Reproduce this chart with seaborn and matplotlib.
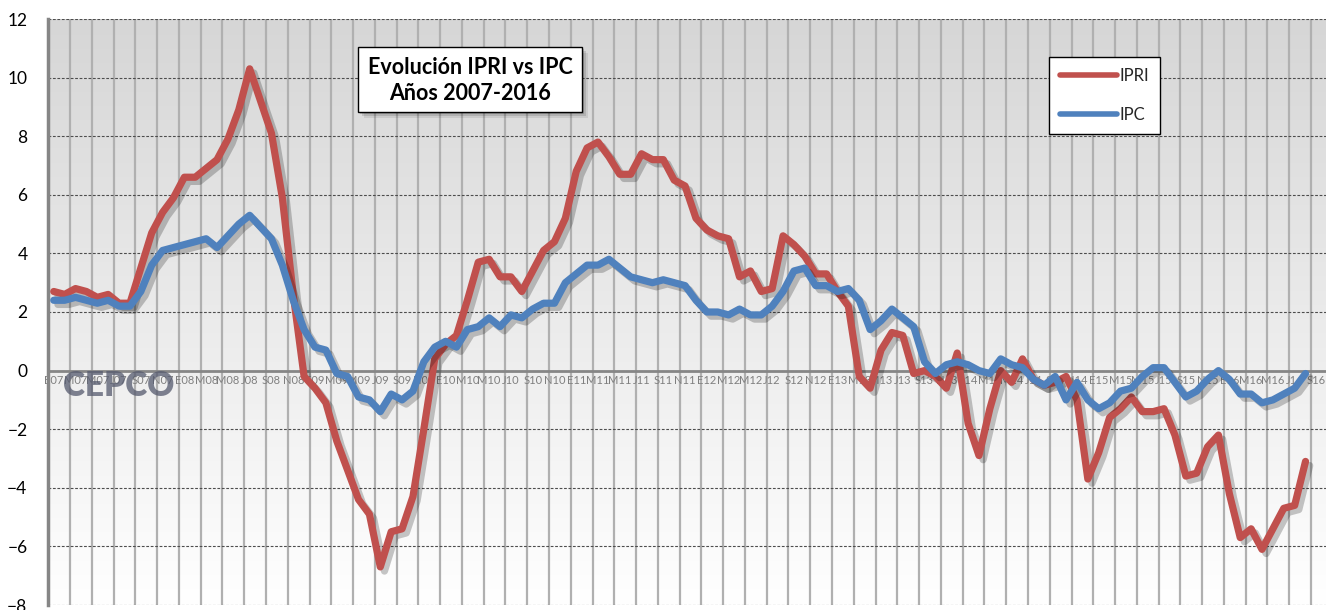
import numpy as np
import pandas as pd
import matplotlib
matplotlib.use('Agg')
import matplotlib.pyplot as plt
import matplotlib.patheffects as pe
from matplotlib.lines import Line2D
from matplotlib.patches import Rectangle
from matplotlib.colors import LinearSegmentedColormap
import seaborn as sns

# ------------------------------------------------------------
# Datos: tasas interanuales mensuales, enero 2007 - agosto 2016
# ------------------------------------------------------------
ipri = [
    2.7, 2.6, 2.8, 2.7, 2.5, 2.6, 2.3, 2.3, 3.5, 4.7, 5.4, 5.9,        # 2007
    6.6, 6.6, 6.9, 7.2, 7.9, 8.9, 10.3, 9.2, 8.1, 5.9, 2.6, -0.2,      # 2008
    -0.6, -1.1, -2.4, -3.4, -4.4, -4.9, -6.7, -5.5, -5.4, -4.3, -2.0, 0.4,  # 2009
    0.9, 1.2, 2.4, 3.7, 3.8, 3.2, 3.2, 2.7, 3.4, 4.1, 4.4, 5.2,        # 2010
    6.8, 7.6, 7.8, 7.3, 6.7, 6.7, 7.4, 7.2, 7.2, 6.5, 6.3, 5.2,        # 2011
    4.8, 4.6, 4.5, 3.2, 3.4, 2.7, 2.8, 4.6, 4.3, 3.9, 3.3, 3.3,        # 2012
    2.7, 2.2, -0.2, -0.6, 0.7, 1.3, 1.2, -0.1, 0.0, -0.2, -0.6, 0.6,   # 2013
    -1.8, -2.9, -1.3, 0.0, -0.4, 0.4, -0.3, -0.5, -0.4, -0.2, -1.0, -3.7,  # 2014
    -2.8, -1.6, -1.3, -0.9, -1.4, -1.4, -1.3, -2.2, -3.6, -3.5, -2.6, -2.2,  # 2015
    -4.2, -5.7, -5.4, -6.1, -5.4, -4.7, -4.6, -3.1,                    # 2016
]
ipc = [
    2.4, 2.4, 2.5, 2.4, 2.3, 2.4, 2.2, 2.2, 2.7, 3.6, 4.1, 4.2,
    4.3, 4.4, 4.5, 4.2, 4.6, 5.0, 5.3, 4.9, 4.5, 3.6, 2.4, 1.4,
    0.8, 0.7, -0.1, -0.2, -0.9, -1.0, -1.4, -0.8, -1.0, -0.7, 0.3, 0.8,
    1.0, 0.8, 1.4, 1.5, 1.8, 1.5, 1.9, 1.8, 2.1, 2.3, 2.3, 3.0,
    3.3, 3.6, 3.6, 3.8, 3.5, 3.2, 3.1, 3.0, 3.1, 3.0, 2.9, 2.4,
    2.0, 2.0, 1.9, 2.1, 1.9, 1.9, 2.2, 2.7, 3.4, 3.5, 2.9, 2.9,
    2.7, 2.8, 2.4, 1.4, 1.7, 2.1, 1.8, 1.5, 0.3, -0.1, 0.2, 0.3,
    0.2, 0.0, -0.1, 0.4, 0.2, 0.1, -0.3, -0.5, -0.2, -1.0, -0.4, -1.0,
    -1.3, -1.1, -0.7, -0.6, -0.2, 0.1, 0.1, -0.4, -0.9, -0.7, -0.3, 0.0,
    -0.3, -0.8, -0.8, -1.1, -1.0, -0.8, -0.6, -0.1,
]
meses = ['E', 'F', 'M', 'A', 'M', 'J', 'J', 'A', 'S', 'O', 'N', 'D']
anios = list(range(2007, 2017))
n_cat = 117   # categorias del eje: enero 2007 - septiembre 2016
cat_labels = [f"{meses[i % 12]}{str(anios[i // 12])[2:]}" for i in range(n_cat)]

titulo = "Evolución IPRI vs IPC\nAños 2007-2016"
colores = {'IPRI': '#c0504d', 'IPC': '#4f81bd'}

df = pd.concat([
    pd.DataFrame({'idx': np.arange(len(ipri)), 'valor': ipri, 'serie': 'IPRI'}),
    pd.DataFrame({'idx': np.arange(len(ipc)), 'valor': ipc, 'serie': 'IPC'}),
], ignore_index=True)

# ------------------------------------------------------------
# Figura
# ------------------------------------------------------------
W, H = 1326, 610
sns.set_style('white')
plt.rcParams['font.family'] = ['Lato', 'DejaVu Sans']

fig = plt.figure(figsize=(W / 100, H / 100), dpi=100)
ax = fig.add_axes([48.3 / W, 5 / H, 1 - 48.3 / W, 586 / H])

x0, x1 = -0.5, 116.88
y0, y1 = -8, 12

# fondo degradado gris -> blanco
cmap_bg = LinearSegmentedColormap.from_list('bg', ['#d6d6d6', '#ffffff'])
ax.imshow(np.linspace(0, 1, 256).reshape(-1, 1), cmap=cmap_bg, aspect='auto',
          extent=(x0, x1, y0, y1), origin='upper', zorder=0)

sns.lineplot(data=df, x='idx', y='valor', hue='serie', palette=colores,
             hue_order=['IPRI', 'IPC'], linewidth=5.2, legend=False, ax=ax, sort=False)
for ln in ax.lines:
    ln.set_solid_joinstyle('round')
    ln.set_solid_capstyle('round')
    ln.set_zorder(3)
    ln.set_path_effects([
        pe.SimpleLineShadow(offset=(3, -3), shadow_color='#000000', alpha=0.22),
        pe.Normal(),
    ])

ax.set_xlim(x0, x1)
ax.set_ylim(y0, y1)
ax.set_xlabel('')
ax.set_ylabel('')

# eje X: rejilla cada dos meses, etiquetas en el centro de la categoria
ax.set_xticks(np.arange(-0.5, n_cat, 2))
ax.set_xticklabels([])
ax.set_xticks(np.arange(0, n_cat, 2), [cat_labels[i] for i in range(0, n_cat, 2)], minor=True)
ax.tick_params(axis='x', which='major', direction='out', length=4, width=1.4, color='#868686')
ax.tick_params(axis='x', which='minor', length=0, pad=3, labelsize=8, labelcolor='#7f7f7f')

ax.set_yticks(np.arange(-8, 13, 2))
ax.tick_params(axis='y', direction='out', length=7, width=1.4, color='#868686',
               labelsize=12.5, labelcolor='black', pad=8)

ax.grid(axis='x', which='major', color='#b0b0b0', linewidth=1.6, linestyle='-')
ax.grid(axis='y', color='#4d4d4d', linewidth=0.8, linestyle=(0, (2.5, 1.5)))
ax.set_axisbelow(True)

for s in ['top', 'right']:
    ax.spines[s].set_visible(False)
ax.spines['left'].set_color('#868686')
ax.spines['left'].set_linewidth(2.5)
ax.spines['bottom'].set_position(('data', 0))
ax.spines['bottom'].set_color('#868686')
ax.spines['bottom'].set_linewidth(2)

# marca de agua
fig.text(119 / W, 1 - 386 / H, 'CEPCO', ha='center', va='center', fontsize=24,
         fontweight='heavy', color='#555a6e', alpha=0.75, zorder=1)

# leyenda
handles = [Line2D([], [], color=colores[k], lw=4, solid_capstyle='round') for k in ['IPRI', 'IPC']]
leg = ax.legend(handles, ['IPRI', 'IPC'], loc='upper left',
                bbox_to_anchor=(1049 / W, 1 - 57 / H), bbox_transform=fig.transFigure,
                borderaxespad=0, fontsize=12, handlelength=3.4, handletextpad=0.2,
                borderpad=0.65, labelspacing=1.38, frameon=True, fancybox=False,
                framealpha=1, edgecolor='black')
leg.get_frame().set_linewidth(1.0)

# cuadro de titulo con sombra
bx, by, bw, bh = 358, 47, 224, 65
for k, a in [(6, 0.08), (4, 0.12), (2, 0.16)]:
    fig.patches.append(Rectangle(((bx + k) / W, 1 - (by + bh + k) / H), bw / W, bh / H,
                                 transform=fig.transFigure, facecolor='black',
                                 edgecolor='none', alpha=a, zorder=5))
fig.patches.append(Rectangle((bx / W, 1 - (by + bh) / H), bw / W, bh / H,
                             transform=fig.transFigure, facecolor='white',
                             edgecolor='black', linewidth=1.0, zorder=6))
fig.text((bx + bw / 2) / W, 1 - (by + bh / 2 + 1) / H, titulo, ha='center', va='center',
         fontsize=15.5, fontweight='bold', color='black', linespacing=1.25, zorder=7)

fig.savefig('out.png', dpi=100)
